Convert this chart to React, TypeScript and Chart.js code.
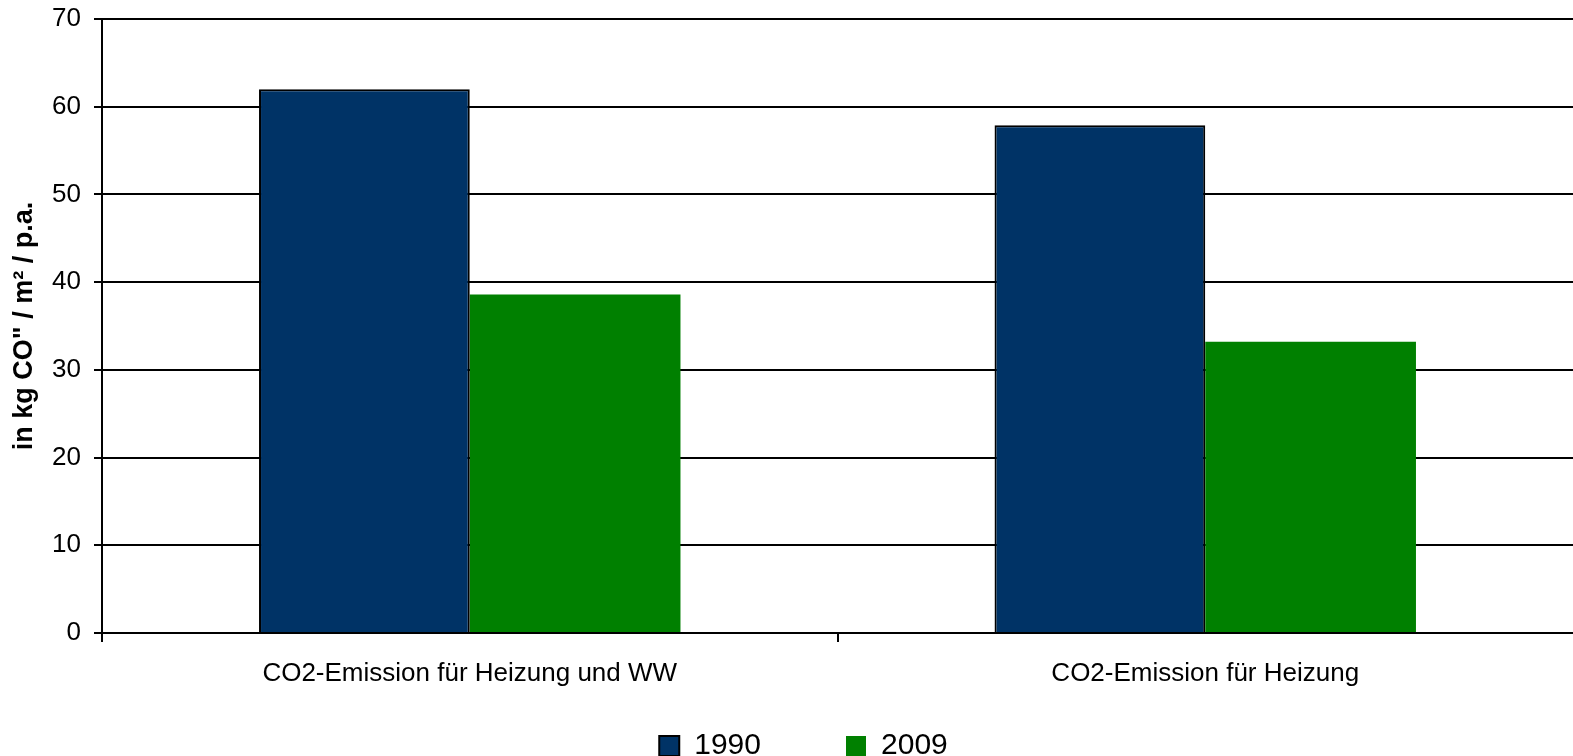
import React, { useEffect, useRef } from "react";
import { Chart, registerables } from "chart.js";

Chart.register(...registerables);

const categories = ["CO2-Emission für Heizung und WW", "CO2-Emission für Heizung"];
const seriesNames = ["1990", "2009"];
const values1990 = [62.0, 57.9];
const values2009 = [38.6, 33.2];
const yTicks = [0, 10, 20, 30, 40, 50, 60, 70];
const yTitle = 'in kg CO" / m² / p.a.';

const FONT = "'Liberation Sans', Arial, sans-serif";

export default function App() {
  const ref = useRef<HTMLCanvasElement | null>(null);

  useEffect(() => {
    if (!ref.current) return;
    const legendShift = {
      id: "legendShift",
      afterLayout(chart: any) {
        if (chart.legend) {
          chart.legend.right += 30;
        }
      },
    };
    const chart = new Chart(ref.current, {
      type: "bar",
      data: {
        labels: categories,
        datasets: [
          {
            label: seriesNames[0],
            data: values1990,
            backgroundColor: "#003366",
            borderColor: "#000000",
            borderWidth: 2,
            barPercentage: 1,
            categoryPercentage: 0.573,
          },
          {
            label: seriesNames[1],
            data: values2009,
            backgroundColor: "#008000",
            borderColor: "#008000",
            borderWidth: 0,
            barPercentage: 1,
            categoryPercentage: 0.573,
          },
        ],
      },
      options: {
        animation: false,
        responsive: true,
        maintainAspectRatio: false,
        layout: { padding: { top: 19, right: -4, left: 0, bottom: -15 } },
        plugins: {
          tooltip: { enabled: false },
          legend: {
            position: "bottom",
            labels: {
              font: { family: FONT, size: 30 },
              color: "#000000",
              boxWidth: 20,
              boxHeight: 20,
              padding: 10,
              generateLabels: (c: any) => {
                const base = Chart.defaults.plugins.legend.labels.generateLabels(c);
                return base.map((item: any, i: number) => ({
                  ...item,
                  text: i === 0 ? item.text + "         " : item.text,
                }));
              },
            },
          },
        },
        scales: {
          x: {
            grid: {
              display: true,
              drawOnChartArea: false,
              drawTicks: true,
              tickLength: 9,
              color: (c: any) => (c.type === "tick" ? "#000000" : "rgba(0,0,0,0)"),
              lineWidth: 2,
              offset: true,
            },
            border: { display: true, color: "#000000", width: 2 },
            ticks: {
              font: { family: FONT, size: 26 },
              color: "#000000",
              padding: 16,
              maxRotation: 0,
            },
            afterFit: (s: any) => {
              s.height = 88;
              s.paddingLeft = 0;
              s.paddingRight = 0;
            },
          },
          y: {
            min: 0,
            max: 70,
            afterBuildTicks: (s: any) => {
              s.ticks = yTicks.map((v) => ({ value: v }));
            },
            grid: {
              color: "#000000",
              lineWidth: 2,
              drawTicks: true,
              tickLength: 8,
            },
            border: { display: true, color: "#000000", width: 2 },
            ticks: {
              font: { family: FONT, size: 26 },
              color: "#000000",
              padding: 13,
            },
            title: {
              display: true,
              text: yTitle,
              font: { family: FONT, size: 27, weight: "bold" },
              color: "#000000",
              padding: { top: 8, bottom: 4 },
            },
            afterFit: (s: any) => {
              s.width = 102;
              s.paddingTop = 0;
              s.paddingBottom = 0;
            },
          },
        },
      },
      plugins: [legendShift],
    });
    return () => chart.destroy();
  }, []);

  return (
    <div style={{ position: "absolute", left: 0, top: 0, width: 1573, height: 756 }}>
      <canvas ref={ref} />
    </div>
  );
}
